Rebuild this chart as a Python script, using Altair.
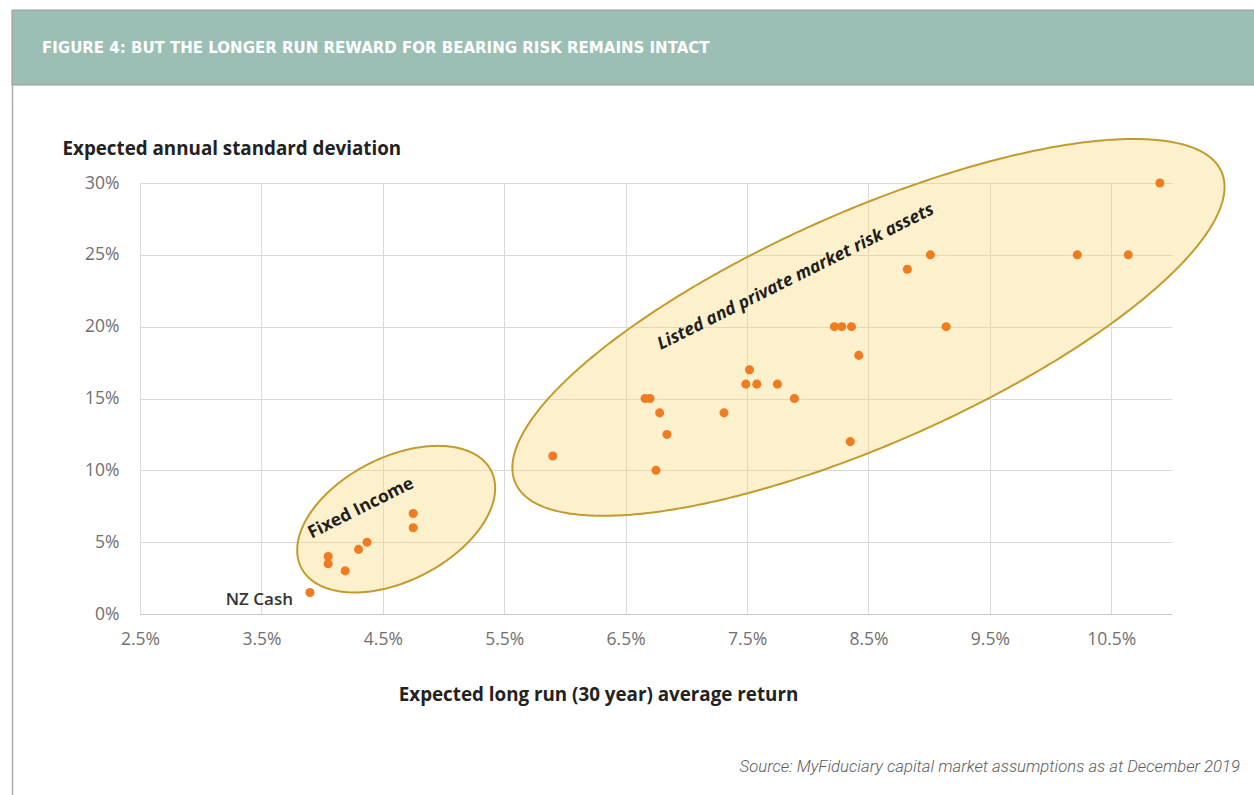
import altair as alt
import pandas as pd
import numpy as np

# ---- data ----
ret = [3.90, 4.05, 4.05, 4.19, 4.30, 4.37, 4.75, 4.75,
       5.90, 6.66, 6.70, 6.78, 6.84, 6.75, 7.31, 7.52, 7.49, 7.58, 7.75, 7.89,
       8.22, 8.28, 8.36, 8.42, 8.35, 8.82, 9.01, 9.14, 10.22, 10.64, 10.90]
sd = [1.5, 4.0, 3.5, 3.0, 4.5, 5.0, 7.0, 6.0,
      11.0, 15.0, 15.0, 14.0, 12.5, 10.0, 14.0, 17.0, 16.0, 16.0, 16.0, 15.0,
      20.0, 20.0, 20.0, 18.0, 12.0, 24.0, 25.0, 20.0, 25.0, 25.0, 30.0]

x_ticks = [2.5, 3.5, 4.5, 5.5, 6.5, 7.5, 8.5, 9.5, 10.5]
y_ticks = [0, 5, 10, 15, 20, 25, 30]
x_dom = [2.5, 11.0]
y_dom = [0, 30]

fi_label = ["Fixed Income"]
fi_x = [4.32]
fi_y = [7.35]

risk_label = ["Listed and private market risk assets"]
risk_x = [7.90]
risk_y = [23.45]

cash_label = ["NZ Cash"]
cash_x = [3.76]
cash_y = [0.95]

# ellipse annotations: centre (data units), semi-axes (px), tilt (deg)
ell_cx = [4.61, 8.50]
ell_cy = [6.6, 19.95]
ell_a = [106.6, 385.8]
ell_b = [61.7, 116.0]
ell_tilt = [27.1, 23.8]

title_txt = "FIGURE 4:  BUT THE LONGER RUN REWARD FOR BEARING RISK REMAINS INTACT"
source_txt = "Source: MyFiduciary capital market assumptions as at December 2019"

W, H = 1032, 431
kx = W / (x_dom[1] - x_dom[0])
ky = H / (y_dom[1] - y_dom[0])

FONT = "Open Sans"


def ellipse_band(cx, cy, a, b, tilt, n=240):
    th = np.radians(tilt)
    s, c = np.sin(th), np.cos(th)
    hw = np.sqrt(a**2 * c**2 + b**2 * s**2)
    u = -hw * np.cos(np.linspace(0, np.pi, n))
    A = s**2 / a**2 + c**2 / b**2
    B = 2 * u * s * c * (1 / a**2 - 1 / b**2)
    C = u**2 * (c**2 / a**2 + s**2 / b**2) - 1
    disc = np.clip(B**2 - 4 * A * C, 0, None)
    v1 = (-B + np.sqrt(disc)) / (2 * A)
    v2 = (-B - np.sqrt(disc)) / (2 * A)
    return cx + u / kx, cy + v2 / ky, cy + v1 / ky


frames = []
for i in range(len(ell_cx)):
    ex, ylo, yhi = ellipse_band(ell_cx[i], ell_cy[i], ell_a[i], ell_b[i], ell_tilt[i])
    frames.append(pd.DataFrame({"x": ex, "ylo": ylo, "yhi": yhi, "grp": i}))
ell_df = pd.concat(frames, ignore_index=True)

pts = pd.DataFrame({"ret": ret, "sd": sd})
fi_df = pd.DataFrame({"t": fi_label, "x": fi_x, "y": fi_y})
risk_df = pd.DataFrame({"t": risk_label, "x": risk_x, "y": risk_y})
cash_df = pd.DataFrame({"t": cash_label, "x": cash_x, "y": cash_y})

xscale = alt.Scale(domain=x_dom, nice=False, zero=False)
yscale = alt.Scale(domain=y_dom, nice=False)

xax = alt.Axis(values=x_ticks, labelExpr="format(datum.value, '.1f') + '%'",
               title="Expected long run (30 year) average return",
               grid=True, gridColor="#d9d9d9", domain=True, domainColor="#c8c8c8",
               ticks=False, labelPadding=16, labelFlush=False, labelFont=FONT,
               labelFontSize=17.5, labelColor="#707070", titleFont=FONT,
               titleFontSize=18.8, titleFontWeight="bold", titleColor="#222222",
               titleX=458, titleY=80, titleAlign="center", titleBaseline="middle")
yax = alt.Axis(values=y_ticks, labelExpr="datum.value + '%'",
               title="Expected annual standard deviation",
               grid=True, gridColor="#d9d9d9", domain=False, ticks=False,
               labelPadding=21, labelFlush=False, labelFont=FONT, labelFontSize=17.5,
               labelColor="#707070", titleFont=FONT, titleFontSize=18.8,
               titleFontWeight="bold", titleColor="#222222", titleAngle=0,
               titleX=-78, titleY=-35, titleAlign="left", titleBaseline="middle")

base_axes = alt.Chart(pts).mark_point(opacity=0).encode(
    x=alt.X("ret:Q", scale=xscale, axis=xax),
    y=alt.Y("sd:Q", scale=yscale, axis=yax),
)

ellipses = alt.Chart(ell_df).mark_area(
    fill="#f8d97a", fillOpacity=0.38, stroke="#c29b2c", strokeWidth=2,
    interpolate="linear"
).encode(
    x=alt.X("x:Q", scale=xscale),
    y=alt.Y("ylo:Q", scale=yscale),
    y2="yhi:Q",
    detail="grp:N",
)

points = alt.Chart(pts).mark_circle(size=82, color="#f07c22", opacity=1).encode(
    x=alt.X("ret:Q", scale=xscale),
    y=alt.Y("sd:Q", scale=yscale),
)

fi_mark = alt.Chart(fi_df).mark_text(
    font=FONT, fontSize=17.5, fontWeight="bold",
    color="#1e1e1e", angle=333.5, align="center", baseline="middle"
).encode(
    x=alt.X("x:Q", scale=xscale),
    y=alt.Y("y:Q", scale=yscale),
    text="t:N",
)

risk_mark = alt.Chart(risk_df).mark_text(
    font=FONT, fontSize=17.5, fontWeight="bold", fontStyle="italic",
    color="#1e1e1e", angle=333.5, align="center", baseline="middle"
).encode(
    x=alt.X("x:Q", scale=xscale),
    y=alt.Y("y:Q", scale=yscale),
    text="t:N",
)

cash_mark = alt.Chart(cash_df).mark_text(
    font=FONT, fontSize=17, fontWeight=600, color="#333333",
    align="right", baseline="middle"
).encode(
    x=alt.X("x:Q", scale=xscale),
    y=alt.Y("y:Q", scale=yscale),
    text="t:N",
)

one = pd.DataFrame({"t": [title_txt]})
header = alt.Chart(one).mark_rect(color="#9bbfb4", stroke="#9a9a9a", strokeWidth=1).encode(
    x=alt.value(-128), x2=alt.value(1120), y=alt.value(-173), y2=alt.value(-98)
)
left_rule = alt.Chart(one).mark_rule(color="#aaaaaa", strokeWidth=1.5).encode(
    x=alt.value(-127.5), y=alt.value(-173), y2=alt.value(612)
)
header_text = alt.Chart(one).mark_text(
    font="DejaVu Sans", fontSize=15, fontWeight="bold", color="#ffffff",
    align="left", baseline="middle"
).encode(x=alt.value(-98), y=alt.value(-135), text="t:N")

src = alt.Chart(pd.DataFrame({"t": [source_txt]})).mark_text(
    font="Roboto", fontSize=16.7, fontStyle="italic", fontWeight=300,
    color="#5c5c5c", align="right", baseline="middle"
).encode(x=alt.value(1100), y=alt.value(584), text="t:N")

chart = alt.layer(
    base_axes, header, left_rule, header_text, ellipses, points,
    fi_mark, risk_mark, cash_mark, src
).properties(
    width=W, height=H,
    autosize=alt.AutoSizeParams(type="none"),
    padding={"left": 140, "top": 183, "right": 82, "bottom": 181},
    background="#ffffff",
).configure_view(stroke=None)

chart.save("out.html", embed_options={"renderer": "svg", "actions": False})
